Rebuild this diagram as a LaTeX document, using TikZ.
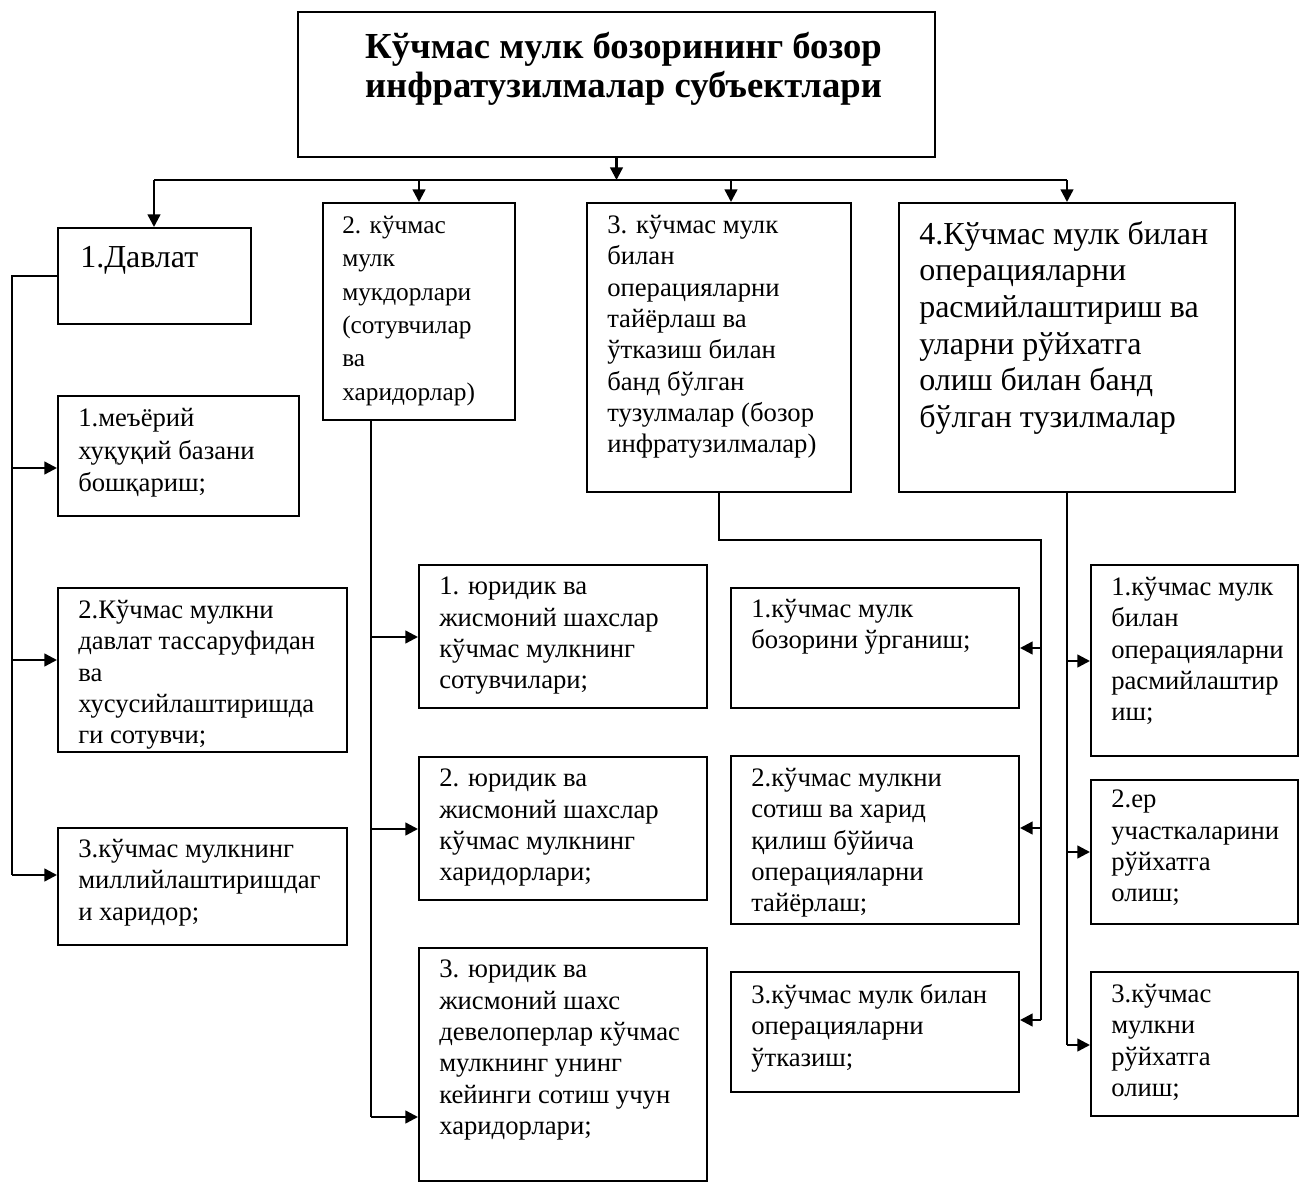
\documentclass[tikz,border=0pt]{standalone}
\usepackage{fontspec}
\setmainfont{Liberation Serif}
\usetikzlibrary{arrows.meta,fit}

\tikzset{
	boite/.style={draw=black, line width=1.5pt, inner sep=0pt},
	texte/.style={anchor=north west, align=left, inner sep=0pt, font=\fontsize{20}{23.5}\selectfont, execute at begin node=\strut},
	petit/.style={texte, font=\fontsize{19}{25}\selectfont},
	grand/.style={texte, font=\fontsize{24}{27.5}\selectfont},
	titre/.style={anchor=north, align=center, inner sep=0pt, font=\bfseries\fontsize{27.5}{29}\selectfont, execute at begin node=\strut},
	trait/.style={line width=1.5pt},
	fleche/.style={line width=1.8pt, -{Triangle[length=9.5pt,width=9.5pt]}}
}

\begin{document}
\begin{tikzpicture}[x=0.75pt, y=-0.75pt]
	\useasboundingbox (0,0) rectangle (1300,1184);

	% TITRE
	\node[boite, fit={(298,12) (935,157)}] (haut) {};
	\node[titre] (hautt) at ([shift={(7,21)}]haut.north) {Кўчмас мулк бозорининг бозор\\инфратузилмалар субъектлари};

	% BUS
	\coordinate (busL) at (154,180);
	\coordinate (busR) at (1067,180);
	\coordinate (a3) at (731,180);
	\draw[fleche] (haut.south) -- (haut.south |- busL);
	\draw[trait] (busL) -- (busR);

	% NIVEAU 1 : LES QUATRE BLOCS
	\node[boite, fit={(58,228) (251,324)}] (b1) {};
	\node[grand] (b1t) at ([shift={(23,15)}]b1.north west) {1.Давлат};

	\node[boite, fit={(323,203) (515,420)}] (b2) {};
	\node[petit] (b2t) at ([shift={(20,14)}]b2.north west) {2. кўчмас\\мулк\\мукдорлари\\(сотувчилар\\ва\\харидорлар)};

	\node[boite, fit={(587,203) (851,492)}] (b3) {};
	\node[texte] (b3t) at ([shift={(21,13)}]b3.north west) {3. кўчмас мулк\\билан\\операцияларни\\тайёрлаш ва\\ўтказиш билан\\банд бўлган\\тузулмалар (бозор\\инфратузилмалар)};

	\node[boite, fit={(899,203) (1235,492)}] (b4) {};
	\node[grand] (b4t) at ([shift={(21,19)}]b4.north west) {4.Кўчмас мулк билан\\операцияларни\\расмийлаштириш ва\\уларни рўйхатга\\олиш билан банд\\бўлган тузилмалар};

	% FLECHES VERS LE NIVEAU 1
	\draw[fleche] (busL) -- (busL |- b1.north);
	\draw[fleche] (b2.north |- busL) -- (b2.north);
	\draw[fleche] (a3) -- (a3 |- b3.north);
	\draw[fleche] (busR) -- (busR |- b4.north);

	% BLOC 1 : DAVLAT
	\node[boite, fit={(58,396) (299,516)}] (b11) {};
	\node[texte, font=\fontsize{20}{24.4}\selectfont] (b11t) at ([shift={(21,13)}]b11.north west) {1.меъёрий\\хуқуқий базани\\бошқариш;};
	\node[boite, fit={(58,588) (347,752)}] (b12) {};
	\node[texte] (b12t) at ([shift={(21,13)}]b12.north west) {2.Кўчмас мулкни\\давлат тассаруфидан\\ва\\хусусийлаштиришда\\ги сотувчи;};
	\node[boite, fit={(58,828) (347,945)}] (b13) {};
	\node[texte] (b13t) at ([shift={(21,12)}]b13.north west) {3.кўчмас мулкнинг\\миллийлаштиришдаг\\и харидор;};

	\coordinate (s11) at (12,468);
	\coordinate (s12) at (12,660);
	\coordinate (s13) at (12,875);
	\draw[trait] (b1.west) -| (s13);
	\draw[fleche] (s11) -- (s11 -| b11.west);
	\draw[fleche] (s12) -- (s12 -| b12.west);
	\draw[fleche] (s13) -- (s13 -| b13.west);

	% BLOC 2 : MUKDORLAR
	\node[boite, fit={(419,565) (707,708)}] (b21) {};
	\node[texte] (b21t) at ([shift={(21,13)}]b21.north west) {1. юридик ва\\жисмоний шахслар\\кўчмас мулкнинг\\сотувчилари;};
	\node[boite, fit={(419,757) (707,900)}] (b22) {};
	\node[texte] (b22t) at ([shift={(21,13)}]b22.north west) {2. юридик ва\\жисмоний шахслар\\кўчмас мулкнинг\\харидорлари;};
	\node[boite, fit={(419,948) (707,1181)}] (b23) {};
	\node[texte] (b23t) at ([shift={(21,13)}]b23.north west) {3. юридик ва\\жисмоний шахс\\девелоперлар кўчмас\\мулкнинг унинг\\кейинги сотиш учун\\харидорлари;};

	\coordinate (s21) at (371,637);
	\coordinate (s22) at (371,829);
	\coordinate (s23) at (371,1117);
	\draw[trait] (b2.south -| s23) -- (s23);
	\draw[fleche] (s21) -- (s21 -| b21.west);
	\draw[fleche] (s22) -- (s22 -| b22.west);
	\draw[fleche] (s23) -- (s23 -| b23.west);

	% BLOC 3 : INFRATUZILMALAR
	\node[boite, fit={(731,588) (1019,708)}] (b31) {};
	\node[texte] (b31t) at ([shift={(21,12)}]b31.north west) {1.кўчмас мулк\\бозорини ўрганиш;};
	\node[boite, fit={(731,756) (1019,924)}] (b32) {};
	\node[texte] (b32t) at ([shift={(21,13)}]b32.north west) {2.кўчмас мулкни\\сотиш ва харид\\қилиш бўйича\\операцияларни\\тайёрлаш;};
	\node[boite, fit={(731,972) (1019,1092)}] (b33) {};
	\node[texte] (b33t) at ([shift={(21,13)}]b33.north west) {3.кўчмас мулк билан\\операцияларни\\ўтказиш;};

	\coordinate (k3) at (1041,540);
	\coordinate (s31) at (1041,648);
	\coordinate (s32) at (1041,828);
	\coordinate (s33) at (1041,1020);
	\draw[trait] (b3.south) |- (k3) -- (s33);
	\draw[fleche] (s31) -- (s31 -| b31.east);
	\draw[fleche] (s32) -- (s32 -| b32.east);
	\draw[fleche] (s33) -- (s33 -| b33.east);

	% BLOC 4 : RASMIYLASHTIRISH
	\node[boite, fit={(1091,565) (1298,756)}] (b41) {};
	\node[texte] (b41t) at ([shift={(21,13)}]b41.north west) {1.кўчмас мулк\\билан\\операцияларни\\расмийлаштир\\иш;};
	\node[boite, fit={(1091,780) (1298,924)}] (b42) {};
	\node[texte] (b42t) at ([shift={(21,11)}]b42.north west) {2.ер\\участкаларини\\рўйхатга\\олиш;};
	\node[boite, fit={(1091,972) (1298,1116)}] (b43) {};
	\node[texte] (b43t) at ([shift={(21,13)}]b43.north west) {3.кўчмас\\мулкни\\рўйхатга\\олиш;};

	\coordinate (s41) at (1067,661);
	\coordinate (s42) at (1067,852);
	\coordinate (s43) at (1067,1045);
	\draw[trait] (b4.south) -- (s43);
	\draw[fleche] (s41) -- (s41 -| b41.west);
	\draw[fleche] (s42) -- (s42 -| b42.west);
	\draw[fleche] (s43) -- (s43 -| b43.west);

\end{tikzpicture}
\end{document}
